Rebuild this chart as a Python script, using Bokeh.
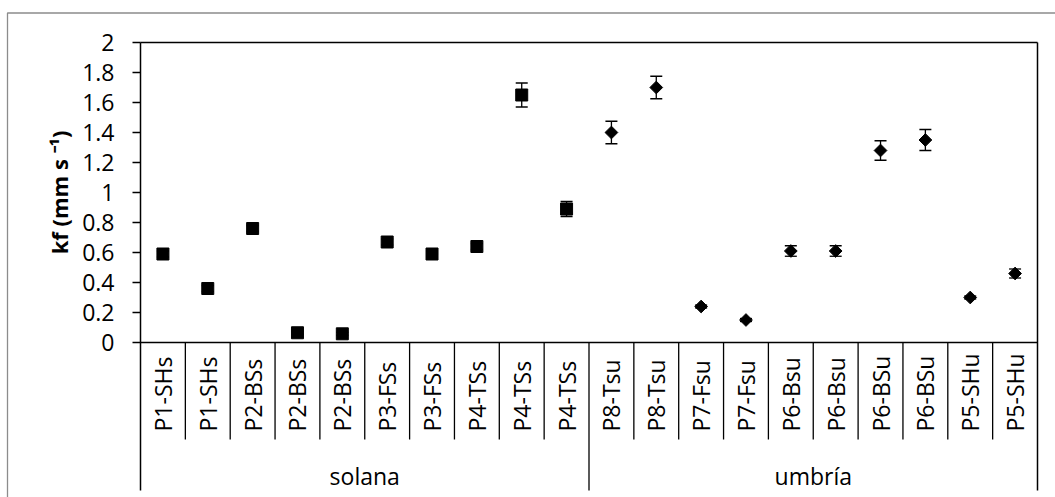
import numpy as np
from bokeh.plotting import figure
from bokeh.models import (ColumnDataSource, Range1d, LinearAxis, FixedTicker,
                          Whisker, TeeHead)
from bokeh.core.properties import value
from bokeh.embed import file_html
from bokeh.resources import INLINE

# ---------------- data ----------------
categories = ["P1-SHs", "P1-SHs", "P2-BSs", "P2-BSs", "P2-BSs",
              "P3-FSs", "P3-FSs", "P4-TSs", "P4-TSs", "P4-TSs",
              "P8-Tsu", "P8-Tsu", "P7-Fsu", "P7-Fsu", "P6-Bsu",
              "P6-Bsu", "P6-BSu", "P6-BSu", "P5-SHu", "P5-SHu"]
group_names = ["solana", "umbría"]
group_sizes = [10, 10]
kf = [0.59, 0.36, 0.76, 0.065, 0.058, 0.67, 0.59, 0.64, 1.65, 0.89,
      1.40, 1.70, 0.24, 0.15, 0.61, 0.61, 1.28, 1.35, 0.30, 0.46]
kf_err = [0.02, 0.02, 0.02, 0.01, 0.01, 0.02, 0.02, 0.02, 0.08, 0.05,
          0.075, 0.075, 0.01, 0.01, 0.035, 0.035, 0.065, 0.07, 0.01, 0.03]
y_ticks = [0, 0.2, 0.4, 0.6, 0.8, 1.0, 1.2, 1.4, 1.6, 1.8, 2.0]
y_tick_labels = ["0", "0.2", "0.4", "0.6", "0.8", "1", "1.2", "1.4", "1.6", "1.8", "2"]
y_title = "kf (mm s \u207b\u00b9)"

# ---------------- layout (pixels) ----------------
W, H = 1055, 497
FL, FR, FT = 140, 1037, 42          # plot area left / right / top (px)
PX_UNIT = 150.0                      # pixels per kf unit
FONT = "Open Sans"
FS = "23px"
FS_TITLE = "22px"
n = len(categories)

def y_at(px):
    return 2.0 - (px - FT) / PX_UNIT

def x_at(px):
    return (px - FL) / (FR - FL) * n

p = figure(width=W, height=H,
           x_range=Range1d(x_at(0), x_at(W)), y_range=Range1d(y_at(H), y_at(0)),
           min_border=0, x_axis_location=None, y_axis_location=None,
           toolbar_location=None, output_backend="svg",
           outline_line_color=None, background_fill_color="white",
           border_fill_color="white")
p.xgrid.visible = False
p.ygrid.visible = False

line_bottom = y_at(490)
AX_W = 1.5

yaxis = LinearAxis(fixed_location=0, ticker=FixedTicker(ticks=y_ticks, minor_ticks=[]),
                   bounds=(line_bottom, 2.0),
                   major_label_overrides={t: l for t, l in zip(y_ticks, y_tick_labels)},
                   major_tick_out=8, major_tick_in=0, minor_tick_out=0, minor_tick_in=0,
                   axis_line_width=AX_W, axis_line_color="black",
                   major_tick_line_width=AX_W, major_tick_line_color="black",
                   major_label_text_font=FONT, major_label_text_font_size=FS,
                   major_label_text_color="black", major_label_standoff=18)
p.add_layout(yaxis, "left")

raxis = LinearAxis(fixed_location=n, ticker=FixedTicker(ticks=[]), bounds=(line_bottom, 2.0),
                   major_tick_out=0, major_tick_in=0, minor_tick_out=0, minor_tick_in=0,
                   major_label_text_font_size="0px",
                   axis_line_width=AX_W, axis_line_color="black")
p.add_layout(raxis, "right")

taxis = LinearAxis(fixed_location=2.0, ticker=FixedTicker(ticks=[]), bounds=(0, n),
                   major_tick_out=0, major_tick_in=0, minor_tick_out=0, minor_tick_in=0,
                   major_label_text_font_size="0px",
                   axis_line_width=AX_W, axis_line_color="black")
p.add_layout(taxis, "above")

baxis = LinearAxis(fixed_location=0, ticker=FixedTicker(ticks=[]), bounds=(0, n),
                   major_tick_out=0, major_tick_in=0, minor_tick_out=0, minor_tick_in=0,
                   major_label_text_font_size="0px",
                   axis_line_width=AX_W, axis_line_color="black")
p.add_layout(baxis, "below")

# outer chart border (left and top visible; right/bottom at the canvas edge)
p.quad(left=[x_at(7)], right=[x_at(1055.5)], top=[y_at(12.5)], bottom=[y_at(H + 5)],
       fill_color=None, line_color="#8c8c8c", line_width=1.3)

# category separators and group separators
bounds_grp = list(np.cumsum(group_sizes))[:-1]
short = [b for b in range(1, n) if b not in bounds_grp]
p.segment(x0=short, y0=[0] * len(short), x1=short, y1=[y_at(439)] * len(short),
          line_color="black", line_width=1.3)
p.segment(x0=bounds_grp, y0=[0] * len(bounds_grp), x1=bounds_grp,
          y1=[line_bottom] * len(bounds_grp), line_color="black", line_width=1.3)

# category labels
centers = [i + 0.5 for i in range(n)]
p.text(x=centers, y=[y_at(431)] * n, text=categories, angle=np.pi / 2,
       text_align="left", text_baseline="middle", text_font=value(FONT),
       text_font_size=FS, text_color="black")

# group labels
starts = np.concatenate([[0], np.cumsum(group_sizes)[:-1]])
gcenters = [s + g / 2 for s, g in zip(starts, group_sizes)]
p.text(x=gcenters, y=[y_at(475)] * len(group_names), text=group_names,
       text_align="center", text_baseline="middle", text_font=value(FONT),
       text_font_size=FS, text_color="black")

# y-axis title
p.text(x=[x_at(58)], y=[1.0], text=[y_title], angle=np.pi / 2,
       text_align="center", text_baseline="middle", text_font=value(FONT),
       text_font_size=FS_TITLE, text_font_style="bold", text_color="black")

# data points
grp_of = []
for name, size in zip(group_names, group_sizes):
    grp_of += [name] * size
angles = [0.0 if g == "solana" else np.pi / 4 for g in grp_of]
sizes = [12 if g == "solana" else 9 for g in grp_of]
src = ColumnDataSource(dict(
    x=centers, kf=kf,
    upper=[v + e for v, e in zip(kf, kf_err)],
    lower=[v - e for v, e in zip(kf, kf_err)],
    angle=angles, size=sizes))

whisk = Whisker(source=src, base="x", upper="upper", lower="lower",
                dimension="height", line_color="black", line_width=1.3,
                upper_head=TeeHead(size=12, line_color="black", line_width=1.3),
                lower_head=TeeHead(size=12, line_color="black", line_width=1.3))
p.add_layout(whisk)
p.scatter(x="x", y="kf", marker="square", angle="angle", size="size",
          fill_color="black", line_color="black", source=src)

open("out.html", "w").write(file_html(p, INLINE))
